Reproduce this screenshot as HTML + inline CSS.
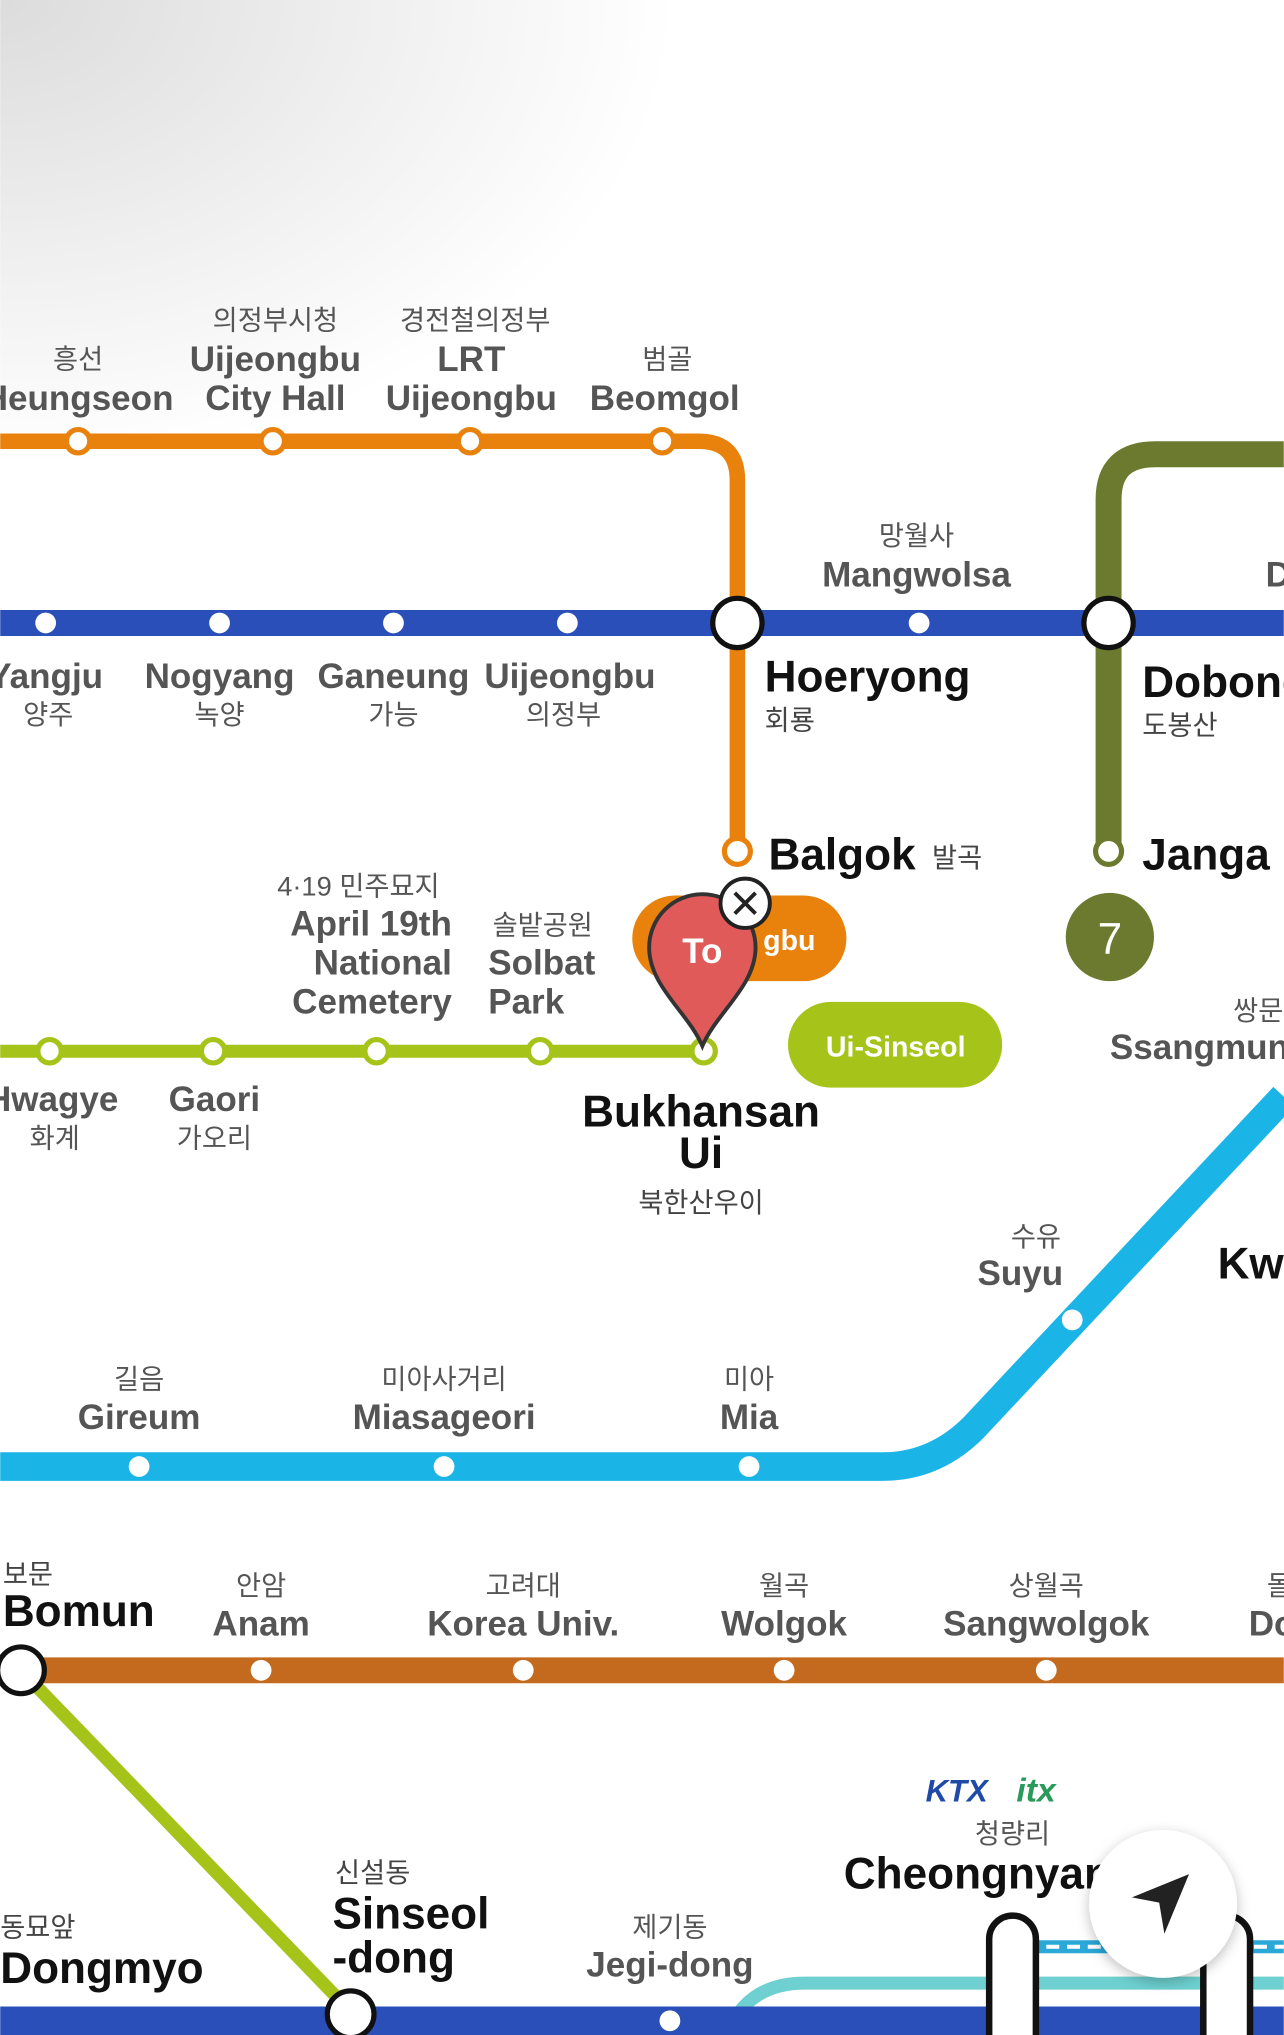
<!DOCTYPE html>
<html><head><meta charset="utf-8"><style>
html,body{margin:0;padding:0;background:#fff;overflow:hidden}
svg{display:block}
text{font-family:"Liberation Sans","Noto Sans CJK KR",sans-serif}
.e{font-size:27px;font-weight:bold;fill:#555}
.k{font-size:21px;fill:#555}
.m{text-anchor:middle}
.b{font-size:34px;font-weight:bold;fill:#111}
.bk{font-size:21px;fill:#444}
</style></head><body>
<svg width="1284" height="2035" viewBox="0 0 989 1568" xmlns="http://www.w3.org/2000/svg">
<defs>
<radialGradient id="g" cx="0" cy="0" r="1" gradientUnits="userSpaceOnUse" gradientTransform="translate(0 0) scale(520 360)">
<stop offset="0" stop-color="#dcdcdc"/><stop offset="1" stop-color="#fff"/></radialGradient>
<filter id="sh" x="-30%" y="-30%" width="160%" height="160%"><feDropShadow dx="0" dy="3" stdDeviation="5" flood-color="#000" flood-opacity="0.25"/></filter>
</defs>
<rect width="989" height="1568" fill="#fff"/>
<rect width="989" height="400" fill="url(#g)"/>

<path d="M0 340 H538 Q568 340 568 370 V656" fill="none" stroke="#e8820c" stroke-width="12"/>
<path d="M854 656 V385 Q854 350 890 350 H989" fill="none" stroke="#6b7a2e" stroke-width="20"/>
<line x1="0" y1="480" x2="989" y2="480" stroke="#2a4fb8" stroke-width="20"/>
<line x1="0" y1="810" x2="542" y2="810" stroke="#a6c31a" stroke-width="10"/>
<path d="M0 1130 H680 Q720 1130 750 1100 L989 845" fill="none" stroke="#1ab4e6" stroke-width="22"/>
<line x1="0" y1="1287" x2="989" y2="1287" stroke="#c46a1e" stroke-width="20"/>
<line x1="16" y1="1287" x2="270" y2="1550" stroke="#a6c31a" stroke-width="10"/>
<path d="M560 1568 Q575 1528 620 1528 H989" fill="none" stroke="#6ed0d0" stroke-width="10"/>
<line x1="790" y1="1500" x2="989" y2="1500" stroke="#2aa8d8" stroke-width="10"/>
<line x1="790" y1="1500" x2="989" y2="1500" stroke="#fff" stroke-width="3" stroke-dasharray="10 6"/>
<line x1="0" y1="1557" x2="989" y2="1557" stroke="#2a4fb8" stroke-width="22"/>
<rect x="762" y="1476" width="36" height="110" rx="18" fill="#fff" stroke="#111" stroke-width="5"/>
<rect x="927" y="1476" width="36" height="110" rx="18" fill="#fff" stroke="#111" stroke-width="5"/>

<g fill="#fff" stroke="#e8820c" stroke-width="4">
<circle cx="60" cy="340" r="9"/><circle cx="210" cy="340" r="9"/><circle cx="362" cy="340" r="9"/><circle cx="510" cy="340" r="9"/><circle cx="568" cy="656" r="10"/></g>
<circle cx="854" cy="656" r="10" fill="#fff" stroke="#6b7a2e" stroke-width="4"/>
<g fill="#fff"><circle cx="35" cy="480" r="8"/><circle cx="169" cy="480" r="8"/><circle cx="303" cy="480" r="8"/><circle cx="437" cy="480" r="8"/><circle cx="708" cy="480" r="8"/>
<circle cx="107" cy="1130" r="8"/><circle cx="342" cy="1130" r="8"/><circle cx="577" cy="1130" r="8"/><circle cx="826" cy="1017" r="8"/>
<circle cx="201" cy="1287" r="8"/><circle cx="403" cy="1287" r="8"/><circle cx="604" cy="1287" r="8"/><circle cx="806" cy="1287" r="8"/><circle cx="516" cy="1557" r="8"/></g>
<g fill="#fff" stroke="#a6c31a" stroke-width="4"><circle cx="38" cy="810" r="9"/><circle cx="164" cy="810" r="9"/><circle cx="290" cy="810" r="9"/><circle cx="416" cy="810" r="9"/><circle cx="542" cy="810" r="9"/></g>
<g fill="#fff" stroke="#111" stroke-width="4"><circle cx="568" cy="480" r="19"/><circle cx="854" cy="480" r="19"/><circle cx="16" cy="1287" r="18"/><circle cx="270" cy="1552" r="18"/></g>

<circle cx="855" cy="722" r="34" fill="#6b7a2e"/>
<text x="855" y="735" font-size="34" fill="#fff" text-anchor="middle">7</text>
<rect x="487" y="690" width="165" height="66" rx="33" fill="#e8820c"/>
<text x="608" y="732" font-size="22" font-weight="bold" fill="#fff" text-anchor="middle">gbu</text>
<rect x="607" y="772" width="165" height="66" rx="33" fill="#a6c31a"/>
<text x="690" y="814" font-size="22" font-weight="bold" fill="#fff" text-anchor="middle">Ui-Sinseol</text>
<path d="M541 806 C530 780 500 760 500 730 A41 41 0 0 1 582 730 C582 760 552 780 541 806 Z" fill="#e05a5a" stroke="#333" stroke-width="3"/>
<text x="541" y="742" font-size="27" font-weight="bold" fill="#fff" text-anchor="middle">To</text>
<circle cx="574" cy="696" r="19" fill="#fff" stroke="#222" stroke-width="3"/>
<path d="M566 688 L582 704 M582 688 L566 704" stroke="#222" stroke-width="3"/>

<text class="k m" x="60" y="284">흥선</text><text class="e m" x="60" y="316">Heungseon</text>
<text class="k m" x="212" y="254">의정부시청</text><text class="e m" x="212" y="286">Uijeongbu</text><text class="e m" x="212" y="316">City Hall</text>
<text class="k m" x="366" y="254">경전철의정부</text><text class="e m" x="363" y="286">LRT</text><text class="e m" x="363" y="316">Uijeongbu</text>
<text class="k m" x="514" y="284">범골</text><text class="e m" x="512" y="316">Beomgol</text>
<text class="k m" x="706" y="420">망월사</text><text class="e m" x="706" y="452">Mangwolsa</text>
<text class="e" x="975" y="452">D</text>
<text class="e m" x="35" y="530">Yangju</text><text class="k m" x="37" y="558">양주</text>
<text class="e m" x="169" y="530">Nogyang</text><text class="k m" x="169" y="558">녹양</text>
<text class="e m" x="303" y="530">Ganeung</text><text class="k m" x="303" y="558">가능</text>
<text class="e m" x="439" y="530">Uijeongbu</text><text class="k m" x="434" y="558">의정부</text>
<text class="b" x="589" y="533">Hoeryong</text><text class="bk" x="589" y="562">회룡</text>
<text class="b" x="880" y="537">Dobong</text><text class="bk" x="880" y="566">도봉산</text>
<text class="b" x="592" y="670">Balgok</text><text class="bk" x="718" y="668">발곡</text>
<text class="b" x="880" y="670">Janga</text>
<text class="k m" x="276" y="690">4·19 민주묘지</text>
<text class="e" x="348" y="721" style="text-anchor:end">April 19th</text><text class="e" x="348" y="751" style="text-anchor:end">National</text><text class="e" x="348" y="781" style="text-anchor:end">Cemetery</text>
<text class="k m" x="418" y="720">솔밭공원</text><text class="e" x="376" y="751">Solbat</text><text class="e" x="376" y="781">Park</text>
<text class="k" x="950" y="786">쌍문</text><text class="e" x="855" y="816">Ssangmun</text>
<text class="e m" x="40" y="856">Hwagye</text><text class="k m" x="42" y="884">화계</text>
<text class="e m" x="165" y="856">Gaori</text><text class="k m" x="165" y="884">가오리</text>
<text class="b" x="540" y="868" text-anchor="middle">Bukhansan</text><text class="b" x="540" y="900" text-anchor="middle">Ui</text>
<text class="bk" x="540" y="934" text-anchor="middle">북한산우이</text>
<text class="k m" x="798" y="960">수유</text><text class="e m" x="786" y="990">Suyu</text>
<text class="b" x="938" y="985">Kw</text>
<text class="k m" x="107" y="1070">길음</text><text class="e m" x="107" y="1101">Gireum</text>
<text class="k m" x="342" y="1070">미아사거리</text><text class="e m" x="342" y="1101">Miasageori</text>
<text class="k m" x="577" y="1070">미아</text><text class="e m" x="577" y="1101">Mia</text>
<text class="bk" x="2" y="1220">보문</text><text class="b" x="2" y="1253">Bomun</text>
<text class="k m" x="201" y="1229">안암</text><text class="e m" x="201" y="1260">Anam</text>
<text class="k m" x="403" y="1229">고려대</text><text class="e m" x="403" y="1260">Korea Univ.</text>
<text class="k m" x="604" y="1229">월곡</text><text class="e m" x="604" y="1260">Wolgok</text>
<text class="k m" x="806" y="1229">상월곡</text><text class="e m" x="806" y="1260">Sangwolgok</text>
<text class="k" x="976" y="1229">돌</text><text class="e" x="962" y="1260">Do</text>
<text x="713" y="1388" font-size="24" font-weight="bold" font-style="italic" fill="#1f4aa8">KTX</text>
<text x="783" y="1388" font-size="26" font-weight="bold" font-style="italic" fill="#2a9a5a">itx</text>
<text class="k m" x="780" y="1420">청량리</text>
<text class="b" x="650" y="1455">Cheongnyan</text>
<text class="bk" x="258" y="1450">신설동</text><text class="b" x="256" y="1486">Sinseol</text><text class="b" x="256" y="1520">-dong</text>
<text class="k m" x="516" y="1492">제기동</text><text class="e m" x="516" y="1523">Jegi-dong</text>
<text class="bk" x="0" y="1492">동묘앞</text><text class="b" x="0" y="1528">Dongmyo</text>

<circle cx="896" cy="1467" r="57" fill="#fff" filter="url(#sh)"/>
<path d="M916 1444 L872 1462 L893 1466 L897 1490 Z" fill="#222"/>
</svg>
</body></html>
